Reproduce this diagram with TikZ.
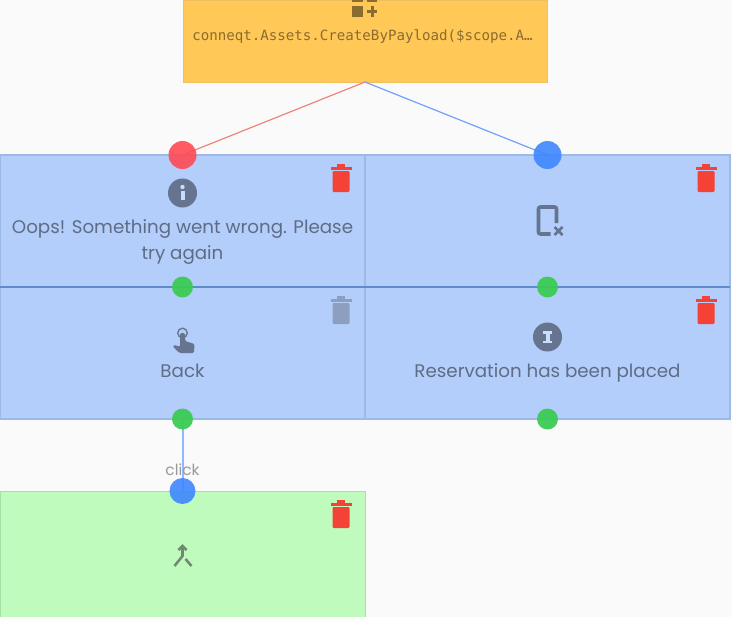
\documentclass[tikz,border=0pt]{standalone}
\usepackage{fontspec}
\usepackage{xcolor}
\setmainfont{Poppins}
\setmonofont{DejaVu Sans Mono}
\usetikzlibrary{positioning}
\definecolor{flowPage}{HTML}{FAFAFA}
\definecolor{flowAmber}{HTML}{FFC857}
\definecolor{flowAmberLine}{HTML}{EFC060}
\definecolor{flowAmberInk}{HTML}{8A6C2E}
\definecolor{flowBlue}{HTML}{B3CEFB}
\definecolor{flowBlueLine}{HTML}{9DB9E6}
\definecolor{flowBlueRule}{HTML}{5F8ACB}
\definecolor{flowGreen}{HTML}{BEFBBD}
\definecolor{flowGreenLine}{HTML}{A6E0A6}
\definecolor{flowInk}{HTML}{66748F}
\definecolor{flowText}{HTML}{5E6C85}
\definecolor{flowMoss}{HTML}{6F8A70}
\definecolor{flowRed}{HTML}{F44336}
\definecolor{flowMute}{HTML}{8C9FBF}
\definecolor{portRed}{HTML}{FF4A55}
\definecolor{portBlue}{HTML}{3F87FF}
\definecolor{portGreen}{HTML}{3CCB55}
\definecolor{linkRed}{HTML}{F08078}
\definecolor{linkBlue}{HTML}{6E9FFF}
\definecolor{linkSoft}{HTML}{93B7FF}
\tikzset{
  rootBox/.style={
    rectangle,
    draw=flowAmberLine,
    fill=flowAmber,
    line width=0.6pt,
    outer sep=0pt,
    minimum width=273pt,
    minimum height=61.5pt
  },
  msgBox/.style={
    rectangle,
    draw=flowBlueLine,
    fill=flowBlue,
    line width=1.1pt,
    outer sep=0pt,
    minimum width=273.75pt,
    minimum height=99pt
  },
  endBox/.style={
    rectangle,
    draw=flowGreenLine,
    fill=flowGreen,
    line width=0.6pt,
    outer sep=0pt,
    minimum width=273.75pt,
    minimum height=99pt
  },
  msgText/.style={
    align=center,
    inner sep=0pt,
    text=flowText,
    font=\fontsize{13.7}{19.5}\selectfont
  },
  codeText/.style={
    inner sep=0pt,
    text=flowAmberInk,
    font=\ttfamily\fontsize{10.6}{12}\selectfont
  },
  linkText/.style={
    inner sep=0pt,
    text=black!40,
    font=\fontsize{11.5}{13}\selectfont
  },
  portIn/.style={
    circle,
    inner sep=0pt,
    minimum size=21pt,
    opacity=0.9
  },
  portOut/.style={
    circle,
    fill=portGreen,
    inner sep=0pt,
    minimum size=15.75pt,
    opacity=0.95
  },
  link/.style={
    line width=0.9pt
  },
  pics/trash/.style={
    code={
      \fill[#1,rounded corners=0.8pt] (-8.5,-7) rectangle (8.5,14);
      \fill[#1] (-10.5,-11.5) rectangle (10.5,-8.5);
      \fill[#1] (-4,-14) rectangle (4,-11.5);
    }
  },
  pics/info/.style={
    code={
      \fill[flowInk] (0,0) circle (14.5);
      \fill[flowBlue!70!white] (0,-6) circle (2.2);
      \fill[flowBlue!70!white] (-2,-2) rectangle (2,7);
    }
  },
  pics/bigInfo/.style={
    code={
      \fill[flowInk] (0,0) circle (14.5);
      \fill[flowBlue!70!white] (-4.5,-6) rectangle (4.5,-3.5);
      \fill[flowBlue!70!white] (-2,-4) rectangle (2,4);
      \fill[flowBlue!70!white] (-4.5,3.5) rectangle (4.5,6);
    }
  },
  pics/phoneOff/.style={
    code={
      \draw[flowInk,line width=2.7pt,rounded corners=1.5pt] (9,2) -- (9,-14) -- (-9,-14) -- (-9,13) -- (3,13);
      \draw[flowInk,line width=1.9pt] (7,6) -- (15,14) (15,6) -- (7,14);
    }
  },
  pics/tap/.style={
    code={
      \draw[flowInk,line width=1pt] (0,-6) circle (4.8);
      \fill[flowInk,rounded corners=1pt] (-2.5,-6) -- (2.5,-6) -- (2.5,2) -- (12,5) -- (11.5,14) -- (-3,14) -- (-10,7) -- (-7,6) -- (-2.5,8) -- cycle;
    }
  },
  pics/merge/.style={
    code={
      \draw[flowMoss,line width=1.9pt] (-4,-7) -- (0,-11) -- (4,-7);
      \draw[flowMoss,line width=1.9pt] (0,-11) -- (0,-1) -- (-8,9);
      \draw[flowMoss,line width=1.9pt] (3,2) -- (9,9);
    }
  },
  pics/addList/.style={
    code={
      \fill[flowAmberInk] (-13,-18) rectangle (-2,-15.5);
      \fill[flowAmberInk] (2,-18) rectangle (12,-15.5);
      \fill[flowAmberInk] (-13,-12) rectangle (-2,-1);
      \fill[flowAmberInk] (2,-7.5) rectangle (12,-4.5);
      \fill[flowAmberInk] (5.5,-12) rectangle (8.5,-1);
    }
  }
}
\begin{document}
\begin{tikzpicture}[x=0.75pt,y=-0.75pt]
  \useasboundingbox (0,0) rectangle (732,617);
  \fill[flowPage] (0,0) rectangle (732,617);
  \node[rootBox] (payload) at (365,41) {};
  \node[msgBox] (oops) at (182.5,221) {};
  \node[msgBox,right=0pt of oops] (device) {};
  \node[msgBox,below=0pt of oops] (back) {};
  \node[msgBox,right=0pt of back] (placed) {};
  \node[endBox,below=54pt of back] (merge) {};
  \draw[flowBlueRule,line width=0.8pt] (oops.south west) -- (device.south east);
  \node[codeText] (payloadText) at (362.5,36.5) {conneqt.Assets.CreateByPayload(\$scope.A…};
  \node[msgText] (oopsText) at ([yshift=-15.75pt]oops.center) {Oops! Something went wrong. Please\\try again};
  \node[msgText,anchor=base] (backText) at ([yshift=-18pt]back.center) {Back};
  \node[msgText,anchor=base] (placedText) at ([yshift=-18pt]placed.center) {Reservation has been placed};
  \pic at (365,18) {addList};
  \pic at ([yshift=21pt]oops.center) {info};
  \pic at (device.center) {phoneOff};
  \pic at ([yshift=10.5pt]back.center) {tap};
  \pic at ([yshift=12pt]placed.center) {bigInfo};
  \pic at (merge.center) {merge};
  \pic at (341,178) {trash=flowRed};
  \pic at (706,178) {trash=flowRed};
  \pic at (341,310) {trash=flowMute};
  \pic at (706,310) {trash=flowRed};
  \pic at (341,514) {trash=flowRed};
  \draw[link,draw=linkRed] (payload.south) -- (oops.north);
  \draw[link,draw=linkBlue] (payload.south) -- (device.north);
  \draw[link,draw=linkSoft,line width=1.5pt] (back.south) -- (merge.north);
  \node[portIn,fill=portRed] (oopsIn) at (oops.north) {};
  \node[portIn,fill=portBlue] (deviceIn) at (device.north) {};
  \node[portOut] (oopsOut) at (oops.south) {};
  \node[portOut] (deviceOut) at (device.south) {};
  \node[portOut] (backOut) at (back.south) {};
  \node[portOut] (placedOut) at (placed.south) {};
  \node[portIn,fill=portBlue,minimum size=19.5pt] (mergeIn) at (merge.north) {};
  \node[linkText,above=11pt of merge.north] (clickText) {click};
\end{tikzpicture}
\end{document}
